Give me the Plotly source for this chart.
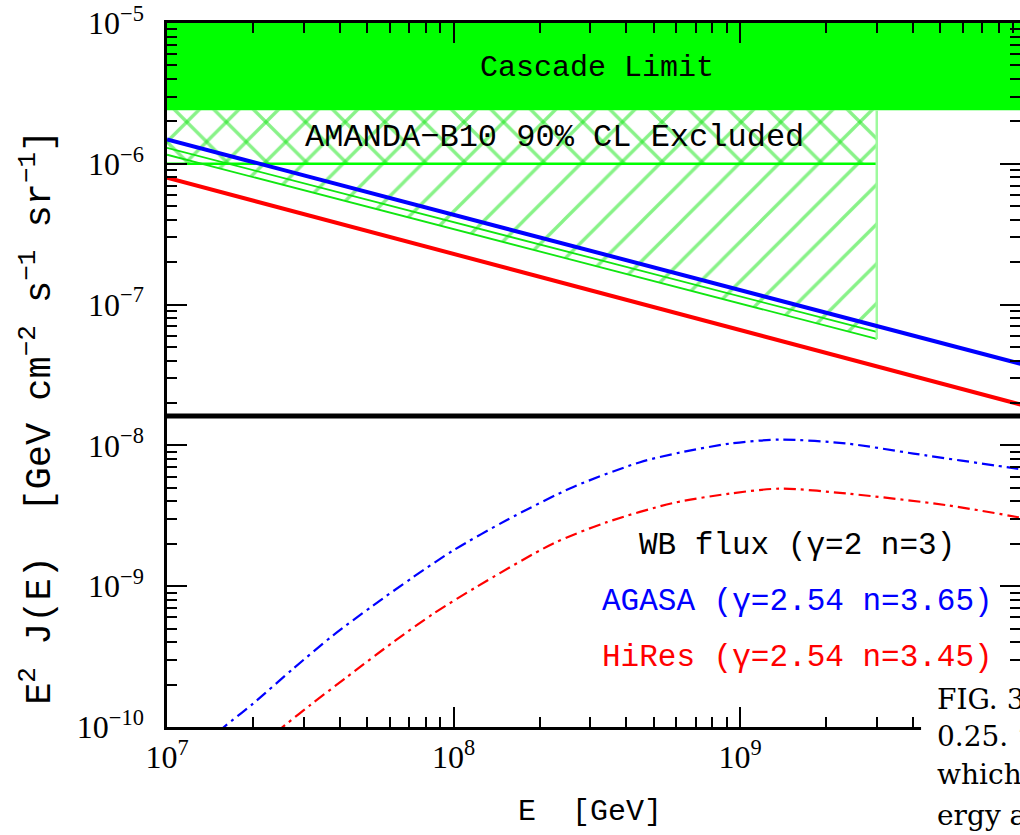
import plotly.graph_objects as go

# ---- frame ----
E_LO, E_HI = 1e7, 10 ** 9.977          # GeV, visible energy span
LOG_F_LO, LOG_F_HI = -10, -5           # E^2 J(E) decades

# ---- solid bounds (E^2 J(E) vs E) ----
bound_E = [1e7, 1e10]
agasa_bound = [1.49e-6, 3.7e-8]
hires_bound = [7.96e-7, 1.9e-8]

# ---- cascade limit band ----
cascade_E = [1e7, 1e10]
cascade_lo = 2.4e-6
cascade_hi = 1e-5

# ---- AMANDA-B10 90% CL excluded region ----
amanda_E = [1e7, 3e9]
amanda_edge = [1.16e-6, 5.7e-8]      # sloped lower edge
amanda_edge_up = [1.30e-6, 6.4e-8]   # companion line of the edge strip
amanda_flat = 1e-6
amanda_top = 2.4e-6

# ---- model fluxes (dash-dot) ----
agasa_E = [1.51e7, 1.61e7, 2.0e7, 2.76e7, 3.8e7, 5.25e7, 7.23e7, 1.0e8, 1.53e8,
           2.62e8, 4.48e8, 6.18e8, 9.23e8, 1.38e9, 2.36e9, 4.03e9, 9.25e9, 1e10]
agasa_flux = [9.2e-11, 1.03e-10, 1.47e-10, 2.6e-10, 4.48e-10, 7.31e-10, 1.16e-9,
              1.8e-9, 2.94e-9, 5.07e-9, 7.6e-9, 8.9e-9, 1.03e-8, 1.10e-8,
              1.03e-8, 8.75e-9, 6.84e-9, 6.7e-9]
hires_E = [2.4e7, 2.58e7, 3.16e7, 4.24e7, 6.17e7, 8.51e7, 1.2e8, 2.23e8, 3.43e8,
           5.85e8, 9.23e8, 1.38e9, 2.36e9, 5.26e9, 9.25e9, 1e10]
hires_flux = [9.1e-11, 1.03e-10, 1.43e-10, 2.26e-10, 4.02e-10, 6.38e-10, 9.86e-10,
              2.01e-9, 2.85e-9, 3.9e-9, 4.55e-9, 4.93e-9, 4.55e-9, 3.76e-9,
              3.1e-9, 3.0e-9]

panel_split = 1.62e-8

y_ticks = [1e-10, 1e-9, 1e-8, 1e-7, 1e-6, 1e-5]
y_labels = ["10<sup>\u221210</sup>", "10<sup>\u22129</sup>", "10<sup>\u22128</sup>",
            "10<sup>\u22127</sup>", "10<sup>\u22126</sup>", "10<sup>\u22125</sup>"]
x_ticks = [1e7, 1e8, 1e9]
x_labels = ["10<sup>7</sup>", "10<sup>8</sup>", "10<sup>9</sup>"]

GREEN = "#00ff00"
HATCH = "#11e611"
MONO = "Liberation Mono"
SERIF = "Liberation Serif"

fig = go.Figure()
skip = dict(hoverinfo="skip", showlegend=False)

# cascade limit band
fig.add_trace(go.Scatter(
    x=[cascade_E[0], cascade_E[1], cascade_E[1], cascade_E[0]],
    y=[cascade_lo, cascade_lo, cascade_hi, cascade_hi],
    fill="toself", fillcolor=GREEN, mode="lines", line=dict(width=0), **skip))

# excluded region: single hatch from the sloped edge up to the band
fig.add_trace(go.Scatter(
    x=[amanda_E[0], amanda_E[1], amanda_E[1], amanda_E[0]],
    y=[amanda_edge[0], amanda_edge[1], amanda_top, amanda_top],
    fill="toself", fillcolor="rgba(0,0,0,0)", mode="lines", line=dict(width=0),
    fillpattern=dict(shape="/", fgcolor=HATCH, bgcolor="rgba(0,0,0,0)",
                     size=28, solidity=0.12), **skip))
# excluded region: counter hatch above the flat limit
fig.add_trace(go.Scatter(
    x=[amanda_E[0], amanda_E[1], amanda_E[1], amanda_E[0]],
    y=[amanda_flat, amanda_flat, amanda_top, amanda_top],
    fill="toself", fillcolor="rgba(0,0,0,0)", mode="lines", line=dict(width=0),
    fillpattern=dict(shape="\\", fgcolor=HATCH, bgcolor="rgba(0,0,0,0)",
                     size=28, solidity=0.12), **skip))

# edges of the excluded region
fig.add_trace(go.Scatter(x=amanda_E, y=[amanda_flat, amanda_flat], mode="lines",
                         line=dict(color=GREEN, width=2.5), **skip))
fig.add_trace(go.Scatter(x=amanda_E, y=amanda_edge, mode="lines",
                         line=dict(color=HATCH, width=1.8), **skip))
fig.add_trace(go.Scatter(x=amanda_E, y=amanda_edge_up, mode="lines",
                         line=dict(color=HATCH, width=1.8), **skip))
fig.add_trace(go.Scatter(x=[amanda_E[1], amanda_E[1]], y=[amanda_edge[1], amanda_top],
                         mode="lines", line=dict(color="#9dfa9d", width=2.5), **skip))

# solid bounds
fig.add_trace(go.Scatter(x=bound_E, y=agasa_bound, mode="lines",
                         line=dict(color="#0000ff", width=4), **skip))
fig.add_trace(go.Scatter(x=bound_E, y=hires_bound, mode="lines",
                         line=dict(color="#ff0000", width=4), **skip))

# model fluxes
dashdot = "12px,5px,3px,5px"
fig.add_trace(go.Scatter(x=agasa_E, y=agasa_flux, mode="lines",
                         line=dict(color="#0000ff", width=2.2, dash=dashdot,
                                   shape="spline", smoothing=0.8), **skip))
fig.add_trace(go.Scatter(x=hires_E, y=hires_flux, mode="lines",
                         line=dict(color="#ff0000", width=2.2, dash=dashdot,
                                   shape="spline", smoothing=0.8), **skip))

# panel divider
fig.add_trace(go.Scatter(x=[1e7, 1e10], y=[panel_split, panel_split], mode="lines",
                         line=dict(color="black", width=5), **skip))

# carrier for the mirrored axes
fig.add_trace(go.Scatter(x=[1e8], y=[1e-8], xaxis="x2", yaxis="y2", mode="markers",
                         marker=dict(opacity=0), **skip))

minor = dict(ticks="inside", ticklen=10, tickwidth=1.6, tickcolor="black",
             tickmode="linear", dtick="D1", showgrid=False)
common = dict(type="log", showgrid=False, zeroline=False, ticks="inside",
              ticklen=20, tickwidth=2, tickcolor="black", minor=minor,
              tickfont=dict(family=SERIF, size=32, color="black"))

x_range = [7, 9.977]
y_range = [LOG_F_LO, LOG_F_HI]

fig.update_layout(
    width=1020, height=835,
    margin=dict(l=167, r=0, t=23, b=108),
    paper_bgcolor="white", plot_bgcolor="white",
    showlegend=False,
    xaxis=dict(range=x_range, tickmode="array", tickvals=x_ticks, ticktext=x_labels,
               showline=True, linewidth=2.5, linecolor="black",
               ticklabelstandoff=0, **common),
    yaxis=dict(range=y_range, tickmode="array", tickvals=y_ticks, ticktext=y_labels,
               showline=True, linewidth=2.5, linecolor="black",
               ticklabelstandoff=14, **common),
    xaxis2=dict(range=x_range, overlaying="x", side="top", anchor="y",
                tickmode="array", tickvals=x_ticks, showticklabels=False,
                showline=True, linewidth=2.5, linecolor="black", **common),
    yaxis2=dict(range=y_range, overlaying="y", side="right", anchor="x",
                tickmode="array", tickvals=y_ticks, showticklabels=False,
                showline=False, **common),
)

# caption block at the lower right
fig.add_shape(type="rect", xref="paper", yref="paper", x0=0.884, x1=1.05,
              y0=-0.2, y1=0.081, fillcolor="white", line=dict(width=0), layer="above")

ann = []
mono = lambda c, s=30: dict(family=MONO, size=s, color=c)
ann.append(dict(text="Cascade Limit", x=0.5041, y=0.9361, font=mono("black")))
ann.append(dict(text="AMANDA\u2212B10 90% CL Excluded", x=0.4537, y=0.838,
                font=mono("black", 32)))
ann.append(dict(text="WB flux (\u03b3=2 n=3)", x=0.7386, y=0.2585,
                font=mono("black", 31)))
ann.append(dict(text="AGASA (\u03b3=2.54 n=3.65)", x=0.7386, y=0.1776,
                font=mono("#0000ff", 31)))
ann.append(dict(text="HiRes (\u03b3=2.54 n=3.45)", x=0.7386, y=0.0994,
                font=mono("#ff0000", 31)))
ann.append(dict(text="E  [GeV]", x=0.496, y=-0.1207, font=mono("black")))
ann.append(dict(text="E<sup>2</sup> J(E)  [GeV cm<sup>\u22122</sup> s<sup>\u22121</sup> "
                     "sr<sup>\u22121</sup>]",
                x=-0.152, y=0.4396, textangle=-90, font=mono("black", 37)))
for a in ann:
    fig.add_annotation(xref="paper", yref="paper", showarrow=False,
                       xanchor="center", yanchor="middle", **a)

caption = [("FIG. 3:", 0.0384), ("0.25. \u201c", -0.0142), ("which", -0.068),
           ("ergy a", -0.125)]
for txt, yy in caption:
    fig.add_annotation(xref="paper", yref="paper", showarrow=False, text=txt,
                       x=0.9004, y=yy, xanchor="left", yanchor="middle",
                       font=dict(family="DejaVu Serif", size=28, color="black"))

fig.write_html("out.html")
